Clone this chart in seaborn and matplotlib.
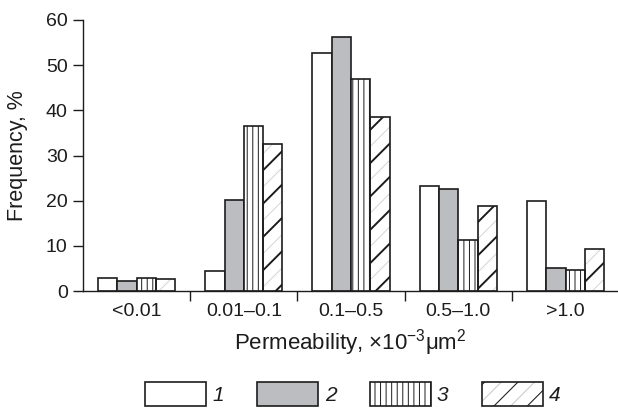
import matplotlib
matplotlib.use("Agg")
import matplotlib.pyplot as plt
from matplotlib.patches import Patch, Rectangle
from matplotlib.legend_handler import HandlerTuple
import numpy as np
import pandas as pd
import seaborn as sns

# Permeability classes and frequency (%) of each sample group
categories = ["<0.01", "0.01–0.1", "0.1–0.5", "0.5–1.0", ">1.0"]
series_names = ["1", "2", "3", "4"]
freq_1 = [2.8, 4.5, 52.8, 23.2, 20.0]
freq_2 = [2.2, 20.2, 56.2, 22.5, 5.0]
freq_3 = [2.8, 36.5, 46.9, 11.3, 4.6]
freq_4 = [2.6, 32.6, 38.5, 18.8, 9.3]
y_ticks = [0, 10, 20, 30, 40, 50, 60]

EDGE = "#1c1c1c"
GRAY = "#bcbdc0"
FAINT = "#c4c4c4"
fills = {"1": "white", "2": GRAY, "3": "white", "4": "none"}
hatches = {"1": "", "2": "", "3": "|||", "4": "/"}
hatch_lw = {"1": 0.7, "2": 0.7, "3": 0.7, "4": 1.4}

df = pd.DataFrame({
    "Permeability": categories * len(series_names),
    "Series": np.repeat(series_names, len(categories)),
    "Frequency": freq_1 + freq_2 + freq_3 + freq_4,
})

sns.set_style("ticks")
plt.rcParams["font.family"] = ["Liberation Sans", "DejaVu Sans"]
plt.rcParams["mathtext.fontset"] = "custom"
plt.rcParams["mathtext.rm"] = "Liberation Sans"
plt.rcParams["mathtext.it"] = "Liberation Sans:italic"
plt.rcParams["hatch.linewidth"] = 0.7
plt.rcParams["text.color"] = EDGE
plt.rcParams["axes.labelcolor"] = EDGE
plt.rcParams["xtick.color"] = EDGE
plt.rcParams["ytick.color"] = EDGE


def set_hatch_lw(patch, lw):
    if hasattr(patch, "set_hatch_linewidth"):
        patch.set_hatch_linewidth(lw)


fig = plt.figure(figsize=(6.18, 4.12), dpi=100)
ax = fig.add_axes([83 / 618, 121 / 412, 534 / 618, 271 / 412])

sns.barplot(
    data=df, x="Permeability", y="Frequency", hue="Series",
    order=categories, hue_order=series_names,
    palette={"1": "white", "2": GRAY, "3": "white", "4": "white"},
    saturation=1, width=0.72, gap=0, errorbar=None,
    edgecolor=EDGE, linewidth=1.2, legend=False, ax=ax,
)

for name, cont in zip(series_names, ax.containers):
    for bar in cont:
        bar.set_facecolor(fills[name])
        bar.set_hatch(hatches[name])
        set_hatch_lw(bar, hatch_lw[name])
        if name == "4":
            # thin light hatch lines sitting between the bold diagonals
            faint = Rectangle(bar.get_xy(), bar.get_width(), bar.get_height(),
                              fill=False, hatch="//", edgecolor=FAINT,
                              linewidth=0, zorder=bar.get_zorder() - 0.1)
            set_hatch_lw(faint, 0.5)
            ax.add_patch(faint)

ax.set_xlim(-0.5, 4.48)
ax.set_ylim(0, 60)
ax.set_yticks(y_ticks)
ax.set_xticks([0.5, 1.5, 2.5, 3.5], minor=True)
ax.tick_params(axis="x", which="major", length=0, pad=8.5, labelsize=14)
ax.tick_params(axis="x", which="minor", length=7.5, width=1.0, direction="out")
ax.tick_params(axis="y", length=7.5, width=1.0, pad=3.5, labelsize=14)

sns.despine(ax=ax)
for side in ("left", "bottom"):
    ax.spines[side].set_color(EDGE)
    ax.spines[side].set_linewidth(1.0)

ax.set_xlabel("Permeability, ×10$^{\\mathregular{-3}}$μm$^{\\mathregular{2}}$", fontsize=16)
ax.xaxis.set_label_coords(0.5, -0.133)
ax.set_ylabel("Frequency, %", fontsize=15.5)
ax.yaxis.set_label_coords(-0.103, 0.5)

# legend swatches
h1 = Patch(facecolor="white", edgecolor=EDGE, linewidth=1.2)
h2 = Patch(facecolor=GRAY, edgecolor=EDGE, linewidth=1.2)
h3 = Patch(facecolor="white", edgecolor=EDGE, linewidth=1.2, hatch="|||")
h4a = Patch(facecolor="white", edgecolor=FAINT, linewidth=0, hatch="//")
h4b = Patch(facecolor="none", edgecolor=EDGE, linewidth=1.2, hatch="/")
set_hatch_lw(h3, 0.7)
set_hatch_lw(h4a, 0.5)
set_hatch_lw(h4b, 1.4)

fig.legend(
    [h1, h2, h3, (h4a, h4b)], series_names,
    loc="center", bbox_to_anchor=(353 / 618, 1 - 394 / 412), ncol=4,
    frameon=False, handlelength=2.93, handleheight=1.44,
    handletextpad=0.3, columnspacing=1.6,
    prop={"style": "italic", "size": 15},
    handler_map={tuple: HandlerTuple(ndivide=1)},
)

fig.savefig("out.png", dpi=100)
